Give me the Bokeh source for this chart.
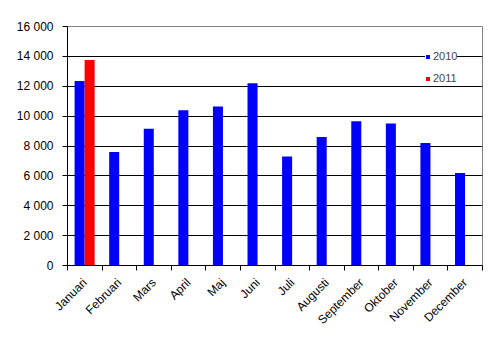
from bokeh.plotting import figure
from bokeh.models import Range1d, FixedTicker, Legend, LegendItem, ColumnDataSource
from bokeh.transform import dodge
from bokeh.embed import file_html
from bokeh.resources import INLINE
import math

months = ["Januari", "Februari", "Mars", "April", "Maj", "Juni", "Juli",
          "Augusti", "September", "Oktober", "November", "December"]
values_2010 = [12350, 7600, 9150, 10400, 10650, 12200, 7300, 8600, 9650, 9500, 8200, 6200]
values_2011 = [13750]
y_ticks = [0, 2000, 4000, 6000, 8000, 10000, 12000, 14000, 16000]

FONT = "Liberation Sans"

pos = [i + 0.5 for i in range(len(months))]
src10 = ColumnDataSource(dict(x=pos, top=values_2010))
src11 = ColumnDataSource(dict(x=pos[:len(values_2011)], top=values_2011))

p = figure(width=497, height=339, output_backend="svg", toolbar_location=None,
           x_range=Range1d(0, 12), y_range=Range1d(0, 16000),
           min_border_left=67, min_border_right=15, min_border_top=26, min_border_bottom=74)
p.outline_line_color = "#808080"
p.outline_line_width = 1

r10 = p.vbar(x=dodge("x", -0.15, range=p.x_range), top="top", width=0.29, bottom=0,
             source=src10, fill_color="#0000FF", line_color=None)
r11 = p.vbar(x=dodge("x", 0.14, range=p.x_range), top="top", width=0.29, bottom=0,
             source=src11, fill_color="#FF0000", line_color=None)

# axes
xa = p.xaxis[0]
xa.ticker = FixedTicker(ticks=pos, minor_ticks=list(range(len(months) + 1)))
xa.major_label_overrides = {p_: m for p_, m in zip(pos, months)}
xa.major_tick_line_color = None
xa.minor_tick_line_color = "black"
xa.minor_tick_out = 5
xa.minor_tick_in = 0
xa.axis_line_color = "black"
xa.major_label_orientation = math.pi / 4
xa.major_label_text_font = FONT
xa.major_label_text_font_size = "12px"
xa.major_label_text_color = "black"
xa.major_label_standoff = 9

ya = p.yaxis[0]
ya.ticker = FixedTicker(ticks=y_ticks, minor_ticks=[])
ya.major_label_overrides = {t: f"{t:,}".replace(",", " ") for t in y_ticks}
ya.major_tick_out = 5
ya.major_tick_in = 0
ya.minor_tick_line_color = None
ya.axis_line_color = "black"
ya.major_label_text_font = FONT
ya.major_label_text_font_size = "12px"
ya.major_label_text_color = "black"
ya.major_label_standoff = 9

p.xgrid.grid_line_color = None
p.ygrid.ticker = FixedTicker(ticks=y_ticks[1:-1])
p.ygrid.grid_line_color = "black"
p.ygrid.grid_line_width = 1
p.ygrid.grid_line_alpha = 1

legend = Legend(items=[LegendItem(label="2010", renderers=[r10]),
                       LegendItem(label="2011", renderers=[r11])],
                location=(358, 180))
legend.border_line_color = None
legend.background_fill_color = "white"
legend.background_fill_alpha = 1
legend.glyph_width = 5
legend.glyph_height = 5
legend.label_height = 14
legend.spacing = 8
legend.padding = 5
legend.margin = 0
legend.label_standoff = 3
legend.label_text_font = FONT
legend.label_text_font_size = "11px"
p.add_layout(legend)

open("out.html", "w").write(file_html(p, INLINE))
